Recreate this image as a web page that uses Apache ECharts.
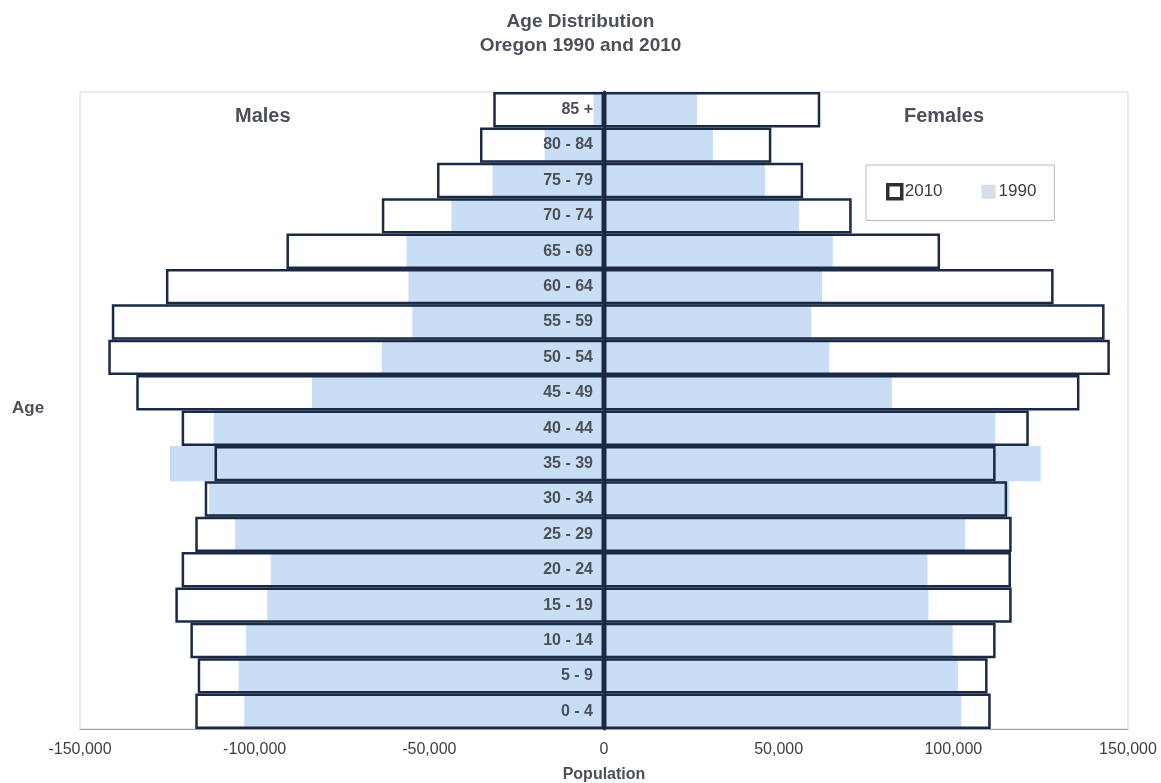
<!DOCTYPE html>
<html>
<head>
<meta charset="utf-8">
<title>Age Distribution – Oregon 1990 and 2010</title>
<script src="https://cdn.jsdelivr.net/npm/echarts@6/dist/echarts.min.js"></script>
<style>
  html, body { margin: 0; padding: 0; background: #ffffff; }
  #chart { width: 1161px; height: 783px; }
</style>
</head>
<body>
<div id="chart"></div>
<script>
// Age groups, youngest first (drawn bottom to top)
const ageGroups = ['0 - 4', '5 - 9', '10 - 14', '15 - 19', '20 - 24', '25 - 29', '30 - 34', '35 - 39',
  '40 - 44', '45 - 49', '50 - 54', '55 - 59', '60 - 64', '65 - 69', '70 - 74', '75 - 79', '80 - 84', '85 +'];

// Population counts (persons); males are plotted to the left of zero
const males2010 = [117000, 116300, 118400, 122700, 120900, 117000, 114300, 111500,
  120900, 133900, 141900, 140900, 125400, 90900, 63600, 47800, 35500, 31700];
const females2010 = [110700, 109800, 112100, 116700, 116500, 116700, 115400, 112100,
  121600, 136100, 144800, 143300, 128700, 96200, 70900, 57000, 47900, 61900];
const males1990 = [103000, 104600, 102500, 96400, 95400, 105600, 113000, 124300,
  111700, 83600, 63600, 54900, 56000, 56500, 43700, 31900, 17000, 3000];
const females1990 = [102300, 101300, 99800, 92900, 92600, 103400, 116000, 125000,
  112000, 82400, 64500, 59400, 62400, 65500, 55800, 46100, 31200, 26600];

const xTicks = { min: -150000, max: 150000, step: 50000 };

const fontFamily = '"Liberation Sans", Arial, Helvetica, sans-serif';
const navy = '#1b2944';
const pale = '#c8def5';
const inkGray = '#4b5059';

const toLeft = arr => arr.map(v => -v);
const fmt = v => (v < 0 ? '-' : '') + Math.abs(v).toString().replace(/\B(?=(\d{3})+(?!\d))/g, ',');

const gridBox = { left: 80, right: 33, top: 92, bottom: 54 };
const plotWidth = 1161 - gridBox.left - gridBox.right;

const barCommon = {
  type: 'bar',
  barGap: '-100%',
  barCategoryGap: '0%',
  silent: true,
  animation: false
};

const chart = echarts.init(document.getElementById('chart'), null, { renderer: 'canvas' });

chart.setOption({
  backgroundColor: '#ffffff',
  textStyle: { fontFamily },
  title: {
    text: 'Age Distribution\nOregon 1990 and 2010',
    left: 'center',
    top: 5,
    textStyle: { fontSize: 19, fontWeight: 'bold', color: inkGray, lineHeight: 24, fontFamily }
  },
  legend: {
    left: 866,
    top: 165,
    orient: 'horizontal',
    padding: [18, 18, 20, 20],
    itemGap: 39,
    itemWidth: 14,
    itemHeight: 14,
    borderColor: '#b9bcc2',
    borderWidth: 1,
    backgroundColor: '#ffffff',
    textStyle: { fontSize: 17, color: '#3a3f47', fontFamily, padding: [0, 0, 0, -2] },
    data: [
      { name: '2010', icon: 'rect', itemStyle: { color: '#ffffff', borderColor: '#2a3038', borderWidth: 3.5 } },
      { name: '1990', icon: 'rect', itemStyle: { color: '#d6dee8', borderColor: '#d6dee8', borderWidth: 0 } }
    ]
  },
  grid: Object.assign({
    show: true,
    borderColor: '#d4d6da',
    borderWidth: 1,
    containLabel: false,
    outerBoundsMode: 'none'
  }, gridBox),
  xAxis: {
    type: 'value',
    min: xTicks.min,
    max: xTicks.max,
    interval: xTicks.step,
    name: 'Population',
    nameLocation: 'middle',
    nameGap: 38,
    nameTextStyle: { fontSize: 16, fontWeight: 'bold', color: inkGray, fontFamily },
    axisLine: { show: true, onZero: false, lineStyle: { color: '#9a9ea6', width: 1 } },
    axisTick: { show: false },
    splitLine: { show: false },
    axisLabel: { formatter: fmt, fontSize: 16, color: '#3a3f47', margin: 13, fontFamily }
  },
  yAxis: {
    type: 'category',
    data: ageGroups,
    position: 'left',
    // shift the category axis onto the zero line of the population axis
    offset: -plotWidth / 2,
    z: 10,
    axisLine: { show: true, onZero: false, lineStyle: { color: navy, width: 3 } },
    axisTick: { show: false },
    splitLine: { show: false },
    axisLabel: { fontSize: 16, fontWeight: 'bold', color: inkGray, margin: 11, fontFamily }
  },
  graphic: [
    { type: 'text', left: 235, top: 106, z: 20, style: { text: 'Males', font: 'bold 20px ' + fontFamily, fill: inkGray } },
    { type: 'text', left: 904, top: 106, z: 20, style: { text: 'Females', font: 'bold 20px ' + fontFamily, fill: inkGray } },
    { type: 'text', left: 12, top: 400, z: 20, style: { text: 'Age', font: 'bold 17px ' + fontFamily, fill: inkGray } }
  ],
  series: [
    // 2010 bars: white fill underneath
    Object.assign({}, barCommon, { name: '2010 fill', data: toLeft(males2010), itemStyle: { color: '#ffffff' }, z: 2 }),
    Object.assign({}, barCommon, { name: '2010 fill', data: females2010, itemStyle: { color: '#ffffff' }, z: 2 }),
    // 1990 bars: pale blue, over the 2010 fill
    Object.assign({}, barCommon, { name: '1990', data: toLeft(males1990), itemStyle: { color: pale }, z: 3 }),
    Object.assign({}, barCommon, { name: '1990', data: females1990, itemStyle: { color: pale }, z: 3 }),
    // 2010 bars: dark outlines on top
    Object.assign({}, barCommon, { name: '2010', data: toLeft(males2010),
      itemStyle: { color: 'rgba(0,0,0,0)', borderColor: navy, borderWidth: 2.5 }, z: 4 }),
    Object.assign({}, barCommon, { name: '2010', data: females2010,
      itemStyle: { color: 'rgba(0,0,0,0)', borderColor: navy, borderWidth: 2.5 }, z: 4 })
  ]
});
</script>
</body>
</html>
